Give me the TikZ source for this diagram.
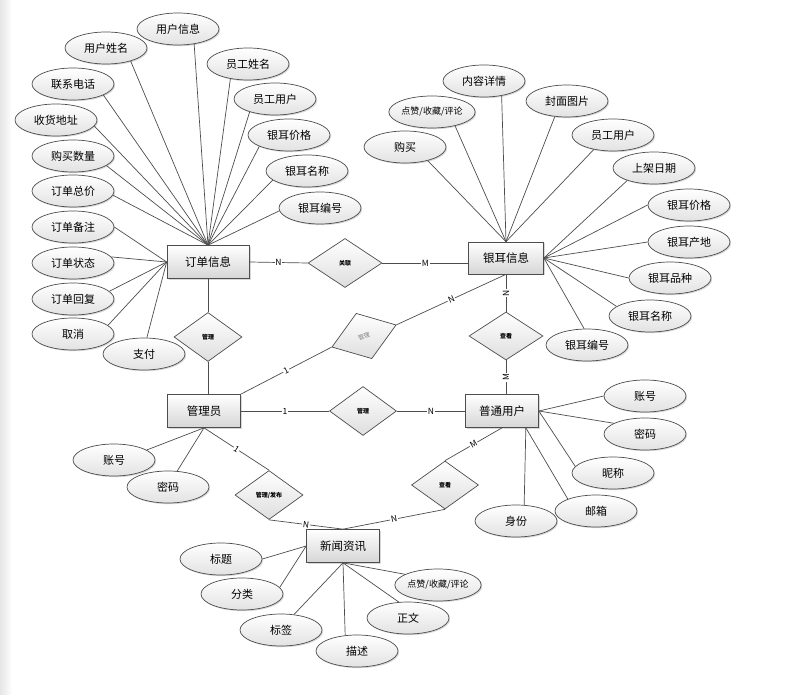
\documentclass[tikz,border=0pt]{standalone}
\usepackage{fontspec}
\setmainfont{Noto Sans CJK SC}
\usetikzlibrary{shapes.geometric,shadows}
\definecolor{edge}{HTML}{4D4D4D}
\definecolor{shd}{HTML}{D6D6D6}
\tikzset{
  attr/.style={ellipse,draw=edge,top color=white,bottom color=shd!70,drop shadow={opacity=0.3,shadow xshift=1.2pt,shadow yshift=-1.2pt},minimum width=82pt,minimum height=32pt,inner sep=0pt,font=\fontsize{11}{13}\selectfont},
  ent/.style={rectangle,draw=edge,top color=white,bottom color=shd,drop shadow={opacity=0.3,shadow xshift=1.5pt,shadow yshift=-1.5pt},minimum width=73pt,minimum height=33pt,inner sep=0pt,font=\fontsize{11.5}{13}\selectfont},
  rel/.style={diamond,draw=edge,top color=white,bottom color=shd!80,minimum width=68pt,minimum height=49pt,inner sep=0pt,font=\fontsize{6}{6}\selectfont\bfseries},
  lbl/.style={fill=white,text=black,inner sep=0.8pt,font=\fontsize{8.5}{8.5}\selectfont},
}

\begin{document}
\begin{tikzpicture}[x=1pt,y=-1pt,line width=0.7pt]
\fill[white] (0,0) rectangle (785,695);
\shade[left color=gray!20,right color=white] (0,0) rectangle (12,695);
\useasboundingbox (0,0) rectangle (785,695);
% entities
\node[ent,minimum width=82pt] (dd) at (208,262) {订单信息};
\node[ent,minimum width=75pt,minimum height=32pt] (ye) at (506,258) {银耳信息};
\node[ent] (gly) at (204,411) {管理员};
\node[ent] (pt) at (502,411) {普通用户};
\node[ent] (xw) at (343,546) {新闻资讯};
% relations
\node[rel,minimum width=74pt] (gx) at (345,263) {关联};
\node[rel] (gl1) at (208,337) {管理};
\node[rel,minimum height=48pt,rotate=19,text=gray,font=\fontsize{6}{6}\selectfont] (gl2) at (364,336) {管理};
\node[rel,minimum width=67pt] (gl3) at (363,411) {管理};
\node[rel,minimum width=74pt,minimum height=48pt] (ck1) at (506,336) {查看};
\node[rel,minimum width=67pt,minimum height=48pt] (ck2) at (445,485) {查看};
\node[rel] (fb) at (269,495) {管理/发布};
% connectors
\draw[edge] (dd.east) -- node[lbl]{N} (gx.west);
\draw[edge] (gx.east) -- node[lbl]{M} (gx.east -| ye.west);
\draw[edge] (ye.south) -- node[lbl,rotate=90]{N} (ck1.north);
\draw[edge] (ck1.south) -- node[lbl,rotate=90]{M} (ck1.south |- pt.north);
\draw[edge] (gly.north east) -- node[lbl,sloped]{1} (gl2.west);
\draw[edge] (gl2.east) -- node[lbl,sloped]{N} (ye.south);
\draw[edge] (gly.east) -- node[lbl]{1} (gl3.west);
\draw[edge] (gl3.east) -- node[lbl]{N} (pt.west);
\draw[edge] (pt.south) -- node[lbl,sloped]{M} (ck2.north);
\draw[edge] (ck2.south) -- node[lbl,sloped]{N} (xw.north);
\draw[edge] (gly.south) -- node[lbl,sloped]{1} (fb.north);
\draw[edge] (fb.south) -- node[lbl,sloped]{N} (xw.north);
\draw[edge] (dd.south) -- (gl1.north);
\draw[edge] (gl1.south) -- (gl1.south |- gly.north);
% attributes of 订单信息
\foreach \n/\x/\y/\a/\t in {a1/178/29/317/用户信息,a2/106/48/332/用户姓名,a3/73/84/340/联系电话,a4/56/120/351/收货地址,a5/73/156/344/购买数量,a6/73/191/354/订单总价,a7/248/64/220/员工姓名,a8/275/99/207/员工用户,a9/289/135/201/银耳价格,a10/307/171/195/银耳名称,a11/320/208/184/银耳编号}
  {\node[attr] (\n) at (\x,\y) {\t}; \draw[edge] (\n.\a) -- (dd.north);}
\foreach \n/\x/\y/\a/\t in {b1/73/227/0/订单备注,b2/73/263/9/订单状态,b3/73/299/12/订单回复,b4/73/334/14/取消,b5/144/354/80/支付}
  {\node[attr] (\n) at (\x,\y) {\t}; \draw[edge] (\n.\a) -- (dd.west);}
% attributes of 银耳信息
\foreach \n/\x/\y/\a/\t in {c1/405/147/329/购买,c3/484/81/320/内容详情,c4/567/101/232/封面图片,c5/613/135/217/员工用户}
  {\node[attr] (\n) at (\x,\y) {\t}; \draw[edge] (\n.\a) -- (ye.north);}
\node[attr,font=\fontsize{9}{10}\selectfont] (c2) at (432,112) {点赞/收藏/评论};
\draw[edge] (c2.329) -- (ye.north);
\foreach \n/\x/\y/\a/\t in {d1/654/168/205/上架日期,d2/689/205/180/银耳价格,d3/689/242/180/银耳产地,d4/670/278/180/银耳品种,d5/650/316/164/银耳名称,d6/587/345/100/银耳编号}
  {\node[attr] (\n) at (\x,\y) {\t}; \draw[edge] (\n.\a) -- (ye.east);}
% attributes of 普通用户
\foreach \n/\x/\y/\a/\t in {e1/645/396/180/账号,e2/645/434/161/密码,e3/613/473/170/昵称}
  {\node[attr] (\n) at (\x,\y) {\t}; \draw[edge] (\n.\a) -- (pt.east);}
\node[attr] (e4) at (596,511) {邮箱};
\node[attr] (e5) at (516,521) {身份};
\draw[edge] (e4.157) -- ([xshift=-13pt]pt.south east);
\draw[edge] (e5.63) -- ([xshift=-13pt]pt.south east);
% attributes of 管理员
\foreach \n/\x/\y/\a/\t in {f1/114/460/17/账号,f2/168/487/60/密码}
  {\node[attr] (\n) at (\x,\y) {\t}; \draw[edge] (\n.\a) -- (gly.south);}
% attributes of 新闻资讯
\foreach \n/\x/\y/\a/\t in {g1/221/559/0/标题,g2/242/594/10/分类}
  {\node[attr] (\n) at (\x,\y) {\t}; \draw[edge] (\n.\a) -- (xw.west);}
\foreach \n/\x/\y/\a/\t in {g3/281/630/50/标签,g4/357/651/127/描述,g5/408/618/120/正文}
  {\node[attr] (\n) at (\x,\y) {\t}; \draw[edge] (\n.\a) -- (xw.south);}
\node[attr,font=\fontsize{9}{10}\selectfont] (g6) at (438,585) {点赞/收藏/评论};
\draw[edge] (g6.162) -- (xw.south);
\end{tikzpicture}
\end{document}
